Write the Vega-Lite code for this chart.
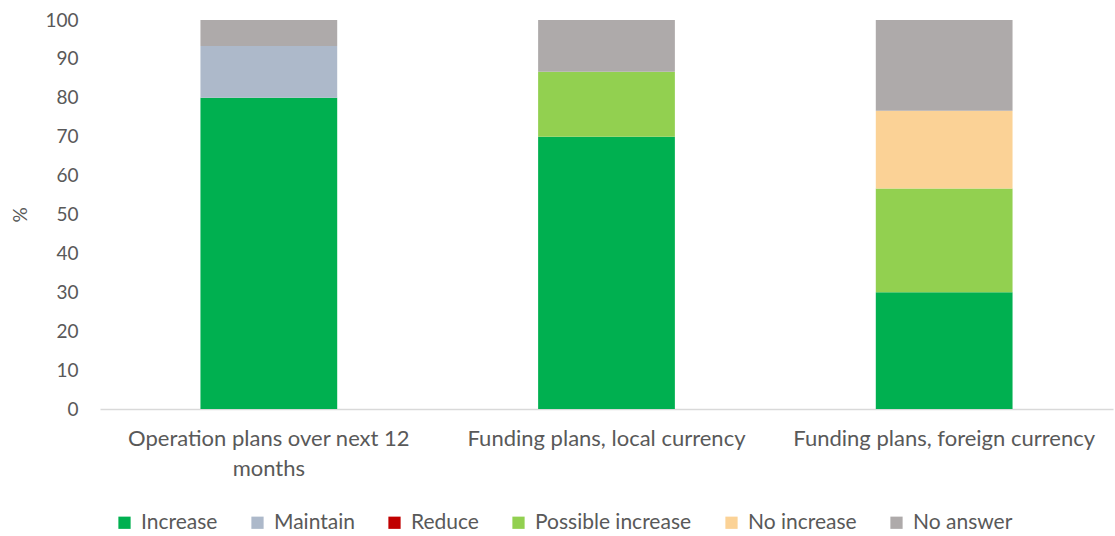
{
  "$schema": "https://vega.github.io/schema/vega-lite/v6.json",
  "width": 1013,
  "height": 389,
  "autosize": {"type": "none"},
  "padding": {"left": 100, "top": 20, "right": 2, "bottom": 127},
  "background": "white",
  "config": {
    "view": {"stroke": null},
    "font": "Lato",
    "axis": {"labelFont": "Lato", "titleFont": "Lato", "labelColor": "#595959", "titleColor": "#595959"},
    "legend": {"labelFont": "Lato"}
  },
  "data": {
    "values": [
      {"category": "Operation plans over next 12 months", "answer": "Increase", "value": 80},
      {"category": "Operation plans over next 12 months", "answer": "Maintain", "value": 13.33},
      {"category": "Operation plans over next 12 months", "answer": "No answer", "value": 6.67},
      {"category": "Funding plans, local currency", "answer": "Increase", "value": 70},
      {"category": "Funding plans, local currency", "answer": "Possible increase", "value": 16.67},
      {"category": "Funding plans, local currency", "answer": "No answer", "value": 13.33},
      {"category": "Funding plans, foreign currency", "answer": "Increase", "value": 30},
      {"category": "Funding plans, foreign currency", "answer": "Possible increase", "value": 26.67},
      {"category": "Funding plans, foreign currency", "answer": "No increase", "value": 20},
      {"category": "Funding plans, foreign currency", "answer": "No answer", "value": 23.33}
    ]
  },
  "transform": [
    {"calculate": "indexof(['Increase', 'Maintain', 'Reduce', 'Possible increase', 'No increase', 'No answer'], datum.answer)", "as": "stackOrder"}
  ],
  "mark": {"type": "bar"},
  "encoding": {
    "x": {
      "field": "category",
      "type": "nominal",
      "sort": ["Operation plans over next 12 months", "Funding plans, local currency", "Funding plans, foreign currency"],
      "scale": {"paddingInner": 0.595, "paddingOuter": 0.2975},
      "axis": {
        "title": null,
        "labelAngle": 0,
        "labelFontSize": 22,
        "labelPadding": 19,
        "labelLimit": 400,
        "labelLineHeight": 30,
        "labelOverlap": false,
        "ticks": false,
        "domainColor": "#D9D9D9",
        "domainWidth": 1.5,
        "labelExpr": "datum.label == 'Operation plans over next 12 months' ? ['Operation plans over next 12', 'months'] : datum.label"
      }
    },
    "y": {
      "field": "value",
      "type": "quantitative",
      "stack": "zero",
      "scale": {"domain": [0, 100], "nice": false},
      "axis": {
        "title": "%",
        "titleFontSize": 19,
        "titleFontWeight": "normal",
        "titlePadding": 14,
        "labelFontSize": 19,
        "labelPadding": 22,
        "labelOverlap": false,
        "values": [0, 10, 20, 30, 40, 50, 60, 70, 80, 90, 100],
        "grid": false,
        "domain": false,
        "ticks": false
      }
    },
    "color": {
      "field": "answer",
      "type": "nominal",
      "scale": {
        "domain": ["Increase", "Maintain", "Reduce", "Possible increase", "No increase", "No answer"],
        "range": ["#00B050", "#ADB9CA", "#C00000", "#92D050", "#FBD296", "#AEAAAA"]
      },
      "legend": {
        "title": null,
        "orient": "none",
        "legendX": 14,
        "legendY": 492,
        "direction": "horizontal",
        "symbolType": "square",
        "symbolSize": 150,
        "symbolStrokeWidth": 0,
        "labelFontSize": 21,
        "labelColor": "#595959",
        "columnPadding": 29,
        "labelOffset": 6,
        "labelLimit": 300
      }
    },
    "order": {"field": "stackOrder", "type": "quantitative", "sort": "ascending"}
  }
}
